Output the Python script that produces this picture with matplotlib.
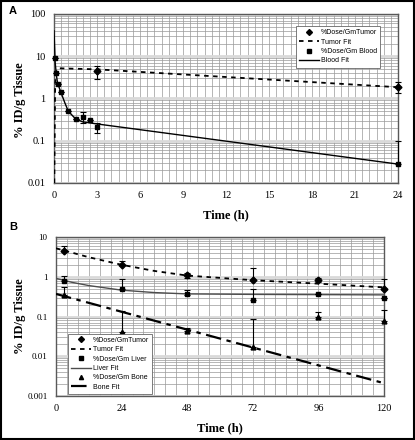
import numpy as np
import matplotlib
matplotlib.use("Agg")
import matplotlib.pyplot as plt
from matplotlib.lines import Line2D
from matplotlib.patches import Rectangle

# ---- Panel A data (0-24 h) ----
a_tumor_t = [3, 24]
a_tumor_y = [4.5, 1.84]
a_tumor_lo = [2.9, 1.36]
a_tumor_hi = [6.0, 2.4]

a_blood_t = [0.083, 0.17, 0.25, 0.5, 1.0, 1.5, 2.0, 2.5, 3.0, 24]
a_blood_y = [9.2, 4.0, 2.25, 1.45, 0.50, 0.33, 0.36, 0.31, 0.215, 0.0277]
a_blood_lo = [9.2, 4.0, 2.25, 1.45, 0.50, 0.33, 0.27, 0.31, 0.155, 0.0277]
a_blood_hi = [9.2, 4.0, 2.25, 1.45, 0.50, 0.33, 0.47, 0.31, 0.27, 0.1]

a_tumor_fit_t = [0.02, 0.08, 0.17, 0.25, 3, 24]
a_tumor_fit_y = [0.01, 2.2, 4.6, 5.2, 4.9, 1.85]
a_blood_fit_t = [0.0, 0.083, 0.17, 0.25, 0.5, 0.75, 1.0, 1.5, 2.0, 3.0, 24]
a_blood_fit_y = [40, 7.0, 3.5, 2.3, 1.35, 0.8, 0.5, 0.33, 0.28, 0.25, 0.028]

# ---- Panel B data (0-120 h) ----
b_t = [3, 24, 48, 72, 96, 120]
b_tumor_y = [4.5, 2.0, 1.09, 0.81, 0.81, 0.49]
b_tumor_lo = [4.5, 2.0, 0.95, 0.81, 0.73, 0.49]
b_tumor_hi = [6.0, 2.5, 1.27, 1.63, 0.91, 0.88]
b_liver_y = [0.80, 0.49, 0.37, 0.26, 0.36, 0.29]
b_liver_lo = [0.80, 0.49, 0.34, 0.26, 0.36, 0.29]
b_liver_hi = [1.06, 0.86, 0.46, 0.48, 0.36, 0.29]
b_bone_y = [0.34, 0.040, 0.044, 0.0174, 0.095, 0.077]
b_bone_lo = [0.34, 0.040, 0.042, 0.0174, 0.095, 0.077]
b_bone_hi = [0.56, 0.138, 0.052, 0.085, 0.128, 0.145]

b_tumor_fit_t = [0, 12, 24, 36, 48, 72, 96, 120]
b_tumor_fit_y = [5.2, 3.1, 2.0, 1.4, 1.07, 0.82, 0.67, 0.54]
b_liver_fit_t = [0, 6, 12, 24, 36, 48, 72, 96, 120]
b_liver_fit_y = [0.91, 0.72, 0.60, 0.46, 0.40, 0.37, 0.36, 0.355, 0.35]
b_bone_fit_t = [0, 120]
b_bone_fit_y = [0.37, 0.0021]

W, H = 415, 440
fig = plt.figure(figsize=(W / 100, H / 100), dpi=100)
fig.patch.set_facecolor("white")
fig.patches.append(Rectangle((0.002, 0.002), 0.996, 0.996, transform=fig.transFigure,
                             fill=False, edgecolor="black", linewidth=1.5))

serif = "Liberation Serif"
sans = "Liberation Sans"


def px_axes(x0, y0, x1, y1):
    return fig.add_axes([x0 / W, 1 - y1 / H, (x1 - x0) / W, (y1 - y0) / H])


def style(ax, xmax, xmajor, xminor, ylo, yhi):
    ax.set_yscale("log")
    ax.set_xlim(0, xmax)
    ax.set_ylim(ylo, yhi)
    ax.set_xticks(np.arange(0, xmax + 0.01, xmajor))
    ax.set_xticks(np.arange(0, xmax + 0.01, xminor), minor=True)
    ax.grid(True, axis="x", which="both", color="0.6", lw=0.5)
    ax.grid(True, axis="y", which="minor", color="0.6", lw=0.5)
    ax.grid(True, axis="y", which="major", color="0.85", lw=2.0)
    ax.set_axisbelow(True)
    ax.tick_params(which="both", length=0, pad=6, labelsize=7.5)
    for lab in ax.get_xticklabels() + ax.get_yticklabels():
        lab.set_fontfamily(serif)
    for s in ax.spines.values():
        s.set_color("0.35")
        s.set_linewidth(1.0)


def errs(y, lo, hi):
    y = np.array(y)
    return [y - np.array(lo), np.array(hi) - y]


ebkw = dict(ls="none", ecolor="black", elinewidth=0.8, capsize=2.5, capthick=0.8,
            color="black", markersize=3.5, zorder=4, clip_on=False)
legkw = dict(prop={"family": sans, "size": 5}, frameon=True, fancybox=False,
             edgecolor="0.4", framealpha=1, handlelength=2.8, labelspacing=0.35,
             borderpad=0.45, handletextpad=0.3, borderaxespad=0)

# ---- Panel A ----
axA = px_axes(54, 14, 398, 183)
style(axA, 24, 3, 0.5, 0.01, 100)
axA.set_yticks([0.01, 0.1, 1, 10, 100])
axA.set_yticklabels(["0.01", "0.1", "1", "10", "100"], fontfamily=serif)
axA.plot(a_tumor_fit_t, a_tumor_fit_y, color="black", lw=1.3, ls=(0, (2.5, 2.5)), zorder=3)
axA.plot(a_blood_fit_t, a_blood_fit_y, color="black", lw=1.0, zorder=3)
axA.errorbar(a_tumor_t, a_tumor_y, yerr=errs(a_tumor_y, a_tumor_lo, a_tumor_hi), marker="D", **ebkw)
axA.errorbar(a_blood_t, a_blood_y, yerr=errs(a_blood_y, a_blood_lo, a_blood_hi), marker="s", **ebkw)

hA = [Line2D([], [], ls="none", marker="D", color="black", markersize=3),
      Line2D([], [], color="black", lw=1.3, ls=(0, (2.5, 2.5))),
      Line2D([], [], ls="none", marker="s", color="black", markersize=3),
      Line2D([], [], color="black", lw=1.0)]
legA = axA.legend(hA, ["%Dose/GmTumor", "Tumor Fit", "%Dose/Gm Blood", "Blood Fit"],
                  loc="upper right", bbox_to_anchor=((380 - 54) / 344, (183 - 26) / 169), **legkw)
legA.get_frame().set_linewidth(0.6)

fig.text(9 / W, 1 - 11 / H, "A", fontfamily=sans, fontweight="bold", fontsize=8, va="center")
fig.text(20 / W, 1 - 100 / H, "% ID/g Tissue", rotation=90, fontfamily=serif,
         fontweight="bold", fontsize=9, ha="center", va="center")
fig.text(226 / W, 1 - 215 / H, "Time (h)", fontfamily=serif, fontweight="bold",
         fontsize=9, ha="center", va="center")

# ---- Panel B ----
axB = px_axes(56, 237, 384, 396)
style(axB, 120, 24, 4, 0.001, 10)
axB.set_yticks([0.001, 0.01, 0.1, 1, 10])
axB.set_yticklabels(["0.001", "0.01", "0.1", "1", "10"], fontfamily=serif)
axB.tick_params(axis="y", labelsize=6.5)
axB.plot(b_tumor_fit_t, b_tumor_fit_y, color="black", lw=1.3, ls=(0, (2.5, 2.5)), zorder=3)
axB.plot(b_liver_fit_t, b_liver_fit_y, color="0.3", lw=1.0, zorder=3)
axB.plot(b_bone_fit_t, b_bone_fit_y, color="black", lw=1.6, ls=(0, (7, 2.5, 2, 2.5)), zorder=3)
axB.errorbar(b_t, b_tumor_y, yerr=errs(b_tumor_y, b_tumor_lo, b_tumor_hi), marker="D", **ebkw)
axB.errorbar(b_t, b_liver_y, yerr=errs(b_liver_y, b_liver_lo, b_liver_hi), marker="s", **ebkw)
axB.errorbar(b_t, b_bone_y, yerr=errs(b_bone_y, b_bone_lo, b_bone_hi), marker="^", **ebkw)

hB = [Line2D([], [], ls="none", marker="D", color="black", markersize=3),
      Line2D([], [], color="black", lw=1.3, ls=(0, (2.5, 2.5))),
      Line2D([], [], ls="none", marker="s", color="black", markersize=3),
      Line2D([], [], color="0.3", lw=1.0),
      Line2D([], [], ls="none", marker="^", color="black", markersize=3),
      Line2D([], [], color="black", lw=1.6, ls=(0, (7, 2.5, 2, 2.5)))]
legB = axB.legend(hB, ["%Dose/GmTumor", "Tumor Fit", "%Dose/Gm Liver", "Liver Fit",
                       "%Dose/Gm Bone", "Bone Fit"],
                  loc="lower left", bbox_to_anchor=((68 - 56) / 328, 2 / 159), **legkw)
legB.get_frame().set_linewidth(0.6)

fig.text(9 / W, 1 - 227 / H, "B", fontfamily=sans, fontweight="bold", fontsize=8, va="center")
fig.text(20 / W, 1 - 316 / H, "% ID/g Tissue", rotation=90, fontfamily=serif,
         fontweight="bold", fontsize=9, ha="center", va="center")
fig.text(220 / W, 1 - 428 / H, "Time (h)", fontfamily=serif, fontweight="bold",
         fontsize=9, ha="center", va="center")

fig.savefig("out.png", dpi=100)
